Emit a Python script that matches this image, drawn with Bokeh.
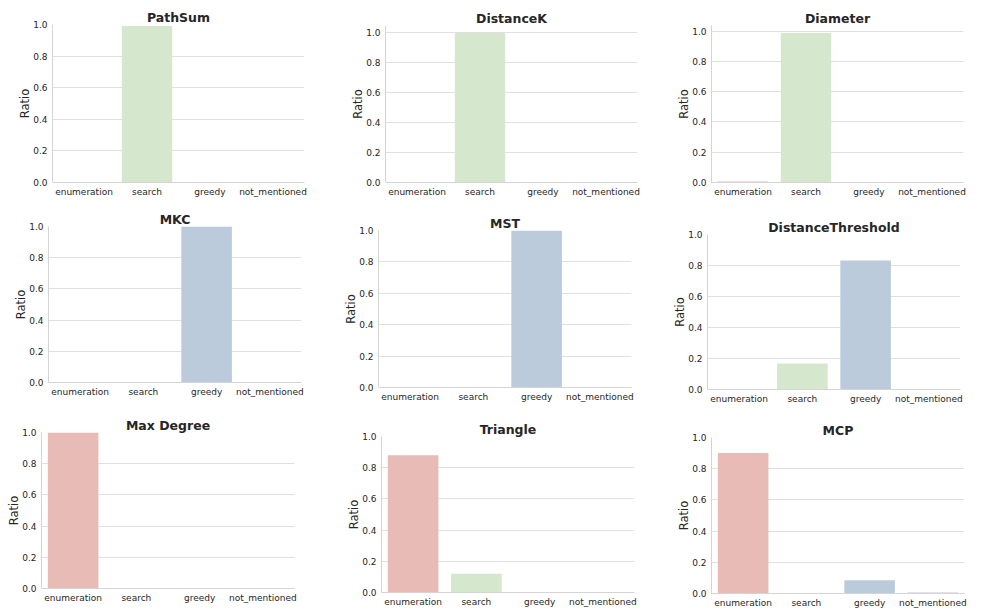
from bokeh.plotting import figure
from bokeh.layouts import column, row
from bokeh.models import Range1d, FactorRange, FixedTicker, PrintfTickFormatter, ColumnDataSource
from bokeh.embed import file_html
from bokeh.resources import INLINE

categories = ["enumeration", "search", "greedy", "not_mentioned"]
tasks = ["PathSum", "DistanceK", "Diameter",
         "MKC", "MST", "DistanceThreshold",
         "Max Degree", "Triangle", "MCP"]

pathsum = [0.0, 0.99, 0.0, 0.0]
distancek = [0.0, 1.0, 0.0, 0.0]
diameter = [0.006, 0.988, 0.0, 0.0]
mkc = [0.0, 0.0, 1.0, 0.0]
mst = [0.0, 0.0, 1.0, 0.0]
distancethreshold = [0.0, 0.167, 0.833, 0.0]
maxdegree = [1.0, 0.0, 0.0, 0.0]
triangle = [0.88, 0.12, 0.0, 0.0]
mcp = [0.9, 0.0, 0.085, 0.008]

values = [pathsum, distancek, diameter, mkc, mst, distancethreshold, maxdegree, triangle, mcp]
y_tops = [1.0, 1.05, 1.037, 1.0, 1.0, 1.0, 1.0, 1.0, 1.0]
y_ticks = [0.0, 0.2, 0.4, 0.6, 0.8, 1.0]

colors = ["#e8bbb6", "#d5e7cc", "#bccbdc", "#e1d6e6"]

# layout: (width, height, border left, right, top, bottom)
geom = [
    (338, 200, 52, 34, 24, 18),
    (330, 200, 47, 31, 25, 18),
    (328, 200, 43, 33, 25, 18),
    (338, 206, 48, 37, 26, 24),
    (330, 206, 40, 37, 30, 19),
    (328, 206, 39, 36, 34, 15),
    (338, 210, 41, 44, 26, 28),
    (330, 210, 43, 34, 30, 24),
    (328, 210, 43, 32, 31, 23),
]

FONT = "DejaVu Sans"
TXT = "#262626"

figs = []
for i, (name, vals) in enumerate(zip(tasks, values)):
    w, h, bl, br, bt, bb = geom[i]
    p = figure(width=w, height=h, x_range=FactorRange(*categories, range_padding=0),
               y_range=Range1d(0, y_tops[i]), output_backend="svg", toolbar_location=None,
               min_border_left=bl, min_border_right=br, min_border_top=bt, min_border_bottom=bb,
               title=name)
    src = ColumnDataSource(dict(cat=categories, val=vals, col=colors))
    p.vbar(x="cat", top="val", width=0.8, source=src, fill_color="col", line_color=None)
    p.outline_line_color = None
    p.background_fill_color = "white"
    p.title.text_font = FONT
    p.title.text_font_size = "12.5px"
    p.title.text_font_style = "bold"
    p.title.text_color = TXT
    p.title.align = "center"
    p.title.standoff = 0
    p.xgrid.grid_line_color = None
    p.ygrid.grid_line_color = "#e0e0e0"
    p.ygrid.grid_line_width = 1
    p.yaxis.ticker = FixedTicker(ticks=y_ticks)
    p.yaxis.formatter = PrintfTickFormatter(format="%.1f")
    p.yaxis.axis_label = "Ratio"
    p.yaxis.axis_label_text_font = FONT
    p.yaxis.axis_label_text_font_size = "11.5px"
    p.yaxis.axis_label_text_font_style = "normal"
    p.yaxis.axis_label_text_color = TXT
    p.yaxis.axis_label_standoff = -2
    for ax in (p.xaxis, p.yaxis):
        ax.axis_line_color = "#d4d4d4"
        ax.axis_line_width = 1
        ax.major_tick_line_color = None
        ax.minor_tick_line_color = None
        ax.major_tick_out = 0
        ax.major_tick_in = 0
        ax.major_label_text_font = FONT
        ax.major_label_text_font_size = "9px"
        ax.major_label_text_color = TXT
        ax.major_label_standoff = 5
    p.xaxis.major_label_standoff = 4
    figs.append(p)

rows = [row(*[column(f) for f in figs[k:k + 3]]) for k in (0, 3, 6)]
layout = column(*rows)

open("out.html", "w").write(file_html(layout, INLINE))
